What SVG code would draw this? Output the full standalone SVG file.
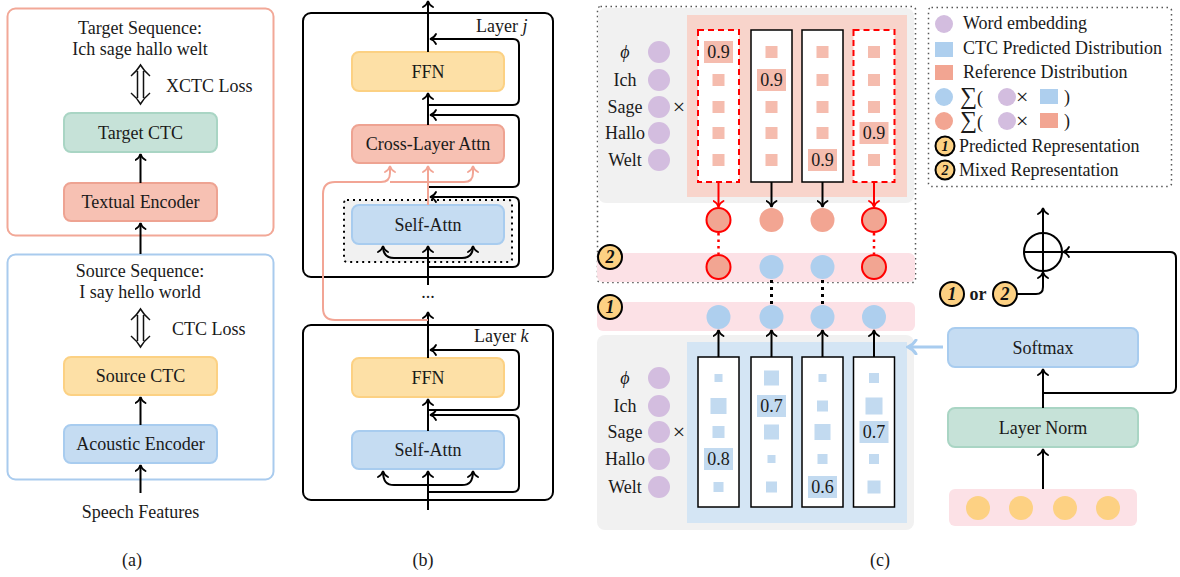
<svg xmlns="http://www.w3.org/2000/svg" width="1180" height="577" viewBox="0 0 1180 577">
<style>
.tx{font-family:"Liberation Serif","Times New Roman",serif;font-size:18px;fill:#1a1a1a}
.m{text-anchor:middle}
.ln{fill:none;stroke:#000;stroke-width:2}
.sl{fill:none;stroke:#f2a595;stroke-width:2}
.bd{fill:#fdd183;stroke:#000;stroke-width:2}
.bt{font-family:"Liberation Serif","Times New Roman",serif;font-weight:bold;font-style:italic;text-anchor:middle;fill:#111}
.grn{fill:#c6e2d8;stroke:#a9d5c4;stroke-width:2}
.sal{fill:#f7c1b3;stroke:#eea392;stroke-width:2}
.yel{fill:#fde0a6;stroke:#fcd183;stroke-width:2}
.blu{fill:#c5dcf2;stroke:#a8ccef;stroke-width:2}
.pur{fill:#d3bddf}
.col{fill:#fff;stroke:#000;stroke-width:1.5}
.rcol{fill:#fff;stroke:#f00;stroke-width:2;stroke-dasharray:6 4}
.sq{fill:#f5bcae}
.bsq{fill:#c2daf0}
.rc{fill:#f2a592}
.bc{fill:#aecfee}
.dot{fill:none;stroke:#555;stroke-width:1.5;stroke-dasharray:1.5 3.5}
.sum{font-size:24px}
.x{font-size:22px}
</style>
<defs>
<marker id="ah" viewBox="0 0 12 12" refX="10" refY="6" markerWidth="12" markerHeight="12" orient="auto" markerUnits="userSpaceOnUse"><path d="M4,1 Q6,5 10,6 Q6,7 4,11" fill="none" stroke="#000" stroke-width="1.8" stroke-linecap="round"/></marker>
<marker id="ahs" viewBox="0 0 12 12" refX="10" refY="6" markerWidth="12" markerHeight="12" orient="auto" markerUnits="userSpaceOnUse"><path d="M4,1 Q6,5 10,6 Q6,7 4,11" fill="none" stroke="#f2a595" stroke-width="1.8" stroke-linecap="round"/></marker>
<marker id="ahr" viewBox="0 0 12 12" refX="10" refY="6" markerWidth="12" markerHeight="12" orient="auto" markerUnits="userSpaceOnUse"><path d="M4,1 Q6,5 10,6 Q6,7 4,11" fill="none" stroke="#f00" stroke-width="1.8" stroke-linecap="round"/></marker>
<marker id="ahb" viewBox="0 0 16 16" refX="14" refY="8" markerWidth="16" markerHeight="16" orient="auto" markerUnits="userSpaceOnUse"><path d="M6,1 Q9,6 14,8 Q9,10 6,15" fill="none" stroke="#a8ccef" stroke-width="3" stroke-linecap="round"/></marker>
</defs>
<rect width="1180" height="577" fill="#fff"/>

<!-- Panel (a) -->
<g id="a-target-frame"><rect x="7.5" y="8.5" width="266" height="227" rx="8" fill="none" stroke="#f2a897" stroke-width="2"/>
<text class="tx m" x="140" y="34">Target Sequence:</text>
<text class="tx m" x="140" y="55">Ich sage hallo welt</text>
<text class="tx" x="166" y="92">XCTC Loss</text></g>
<g id="a-source-frame"><rect x="7.5" y="254.5" width="266" height="225" rx="8" fill="none" stroke="#a9cbee" stroke-width="2"/>
<text class="tx m" x="140" y="277">Source Sequence:</text>
<text class="tx m" x="140" y="298">I say hello world</text>
<text class="tx" x="172" y="335">CTC Loss</text></g>
<g id="a-target-ctc"><rect class="grn" x="64" y="113" width="153" height="39" rx="7"/><text class="tx m" x="140.5" y="139">Target CTC</text></g>
<g id="a-textual-encoder"><rect class="sal" x="64" y="183" width="153" height="38" rx="7"/><text class="tx m" x="140.5" y="208">Textual Encoder</text></g>
<g id="a-source-ctc"><rect class="yel" x="64" y="357" width="153" height="38" rx="7"/><text class="tx m" x="140.5" y="382">Source CTC</text></g>
<g id="a-acoustic-encoder"><rect class="blu" x="64" y="425" width="153" height="38" rx="7"/><text class="tx m" x="140.5" y="450">Acoustic Encoder</text></g>
<g id="a-speech"><text class="tx m" x="140.5" y="518">Speech Features</text></g>
<text class="tx m" x="132" y="566">(a)</text>

<g id="a-connectors">
<path class="ln" d="M140.5,183 V154" marker-end="url(#ah)"/>
<path class="ln" d="M140.5,254 V223" marker-end="url(#ah)"/>
<path class="ln" d="M140.5,425 V397" marker-end="url(#ah)"/>
<path class="ln" d="M140.5,493 V465" marker-end="url(#ah)"/>
<path d="M131,76 Q137,71 140.5,65 Q144,71 150,76 M137.5,71 V98 M143.5,71 V98 M131,93 Q137,98 140.5,104 Q144,98 150,93" fill="none" stroke="#111" stroke-width="1.5"/>
<path d="M131,320 Q137,315 140.5,309 Q144,315 150,320 M137.5,315 V341 M143.5,315 V341 M131,336 Q137,341 140.5,347 Q144,341 150,336" fill="none" stroke="#111" stroke-width="1.5"/>
</g>

<!-- Panel (b) -->
<g id="b-layer-j"><rect x="303" y="13" width="250" height="264" rx="8" fill="none" stroke="#000" stroke-width="2"/>
<text class="tx" x="476" y="32">Layer <tspan font-style="italic">j</tspan></text></g>
<g id="b-dotted"><rect x="344" y="200" width="168" height="62" rx="3" fill="#f1f1f1" stroke="#000" stroke-width="2" stroke-dasharray="2 4"/></g>
<g id="b-ffn-j"><rect class="yel" x="352" y="52" width="152" height="39" rx="7"/><text class="tx m" x="428" y="78">FFN</text></g>
<g id="b-cross-attn"><rect class="sal" x="352" y="125" width="152" height="38" rx="7"/><text class="tx m" x="428" y="150">Cross-Layer Attn</text></g>
<g id="b-self-attn-j"><rect class="blu" x="352" y="205" width="152" height="39" rx="7"/><text class="tx m" x="428" y="231">Self-Attn</text></g>
<g id="b-layer-k"><rect x="303" y="325" width="250" height="175" rx="8" fill="none" stroke="#000" stroke-width="2"/>
<text class="tx" x="474" y="342">Layer <tspan font-style="italic">k</tspan></text></g>
<g id="b-ffn-k"><rect class="yel" x="352" y="358" width="152" height="39" rx="7"/><text class="tx m" x="428" y="384">FFN</text></g>
<g id="b-self-attn-k"><rect class="blu" x="352" y="431" width="152" height="38" rx="7"/><text class="tx m" x="428" y="456">Self-Attn</text></g>
<text class="tx m" x="428" y="298">...</text>
<text class="tx m" x="423" y="566">(b)</text>

<g id="b-connectors">
<path class="ln" d="M428,510 V471" marker-end="url(#ah)"/>
<path class="ln" d="M428,485 H394 C387,485 383,482 383,471" marker-end="url(#ah)"/>
<path class="ln" d="M428,485 H462 C469,485 473,482 473,471" marker-end="url(#ah)"/>
<path class="ln" d="M428,492 H513 Q519,492 519,486 V421 Q519,415 513,415 H430" marker-end="url(#ah)"/>
<path class="ln" d="M428,431 V399" marker-end="url(#ah)"/>
<path class="ln" d="M428,410 H513 Q519,410 519,404 V356 Q519,350 513,350 H430" marker-end="url(#ah)"/>
<path class="ln" d="M428,358 V312" marker-end="url(#ah)"/>
<path class="ln" d="M428,277 V283"/>
<path class="ln" d="M428,285 V246" marker-end="url(#ah)"/>
<path class="ln" d="M428,258 H394 C387,258 383,255 383,246" marker-end="url(#ah)"/>
<path class="ln" d="M428,258 H462 C469,258 473,255 473,246" marker-end="url(#ah)"/>
<path class="ln" d="M428,267 H513 Q519,267 519,261 V203 Q519,197 513,197 H430" marker-end="url(#ah)"/>
<path class="ln" d="M428,187 H513 Q519,187 519,181 V121 Q519,115 513,115 H430" marker-end="url(#ah)"/>
<path class="ln" d="M428,125 V93" marker-end="url(#ah)"/>
<path class="ln" d="M428,105 H513 Q519,105 519,99 V45 Q519,39 513,39 H430" marker-end="url(#ah)"/>
<path class="ln" d="M428,52 V1" marker-end="url(#ah)"/>
<path class="sl" d="M428,320 H335 Q323,320 323,308 V194 Q323,182 335,182 H381 Q390,182 390,173 V166" marker-end="url(#ahs)"/>
<path class="sl" d="M390,182 H428"/>
<path class="sl" d="M428,205 V166" marker-end="url(#ahs)"/>
<path class="sl" d="M428,182 H464 Q473,182 473,173 V166" marker-end="url(#ahs)"/>
</g>

<!-- Panel (c) -->
<g id="c-frame"><rect class="dot" x="597.5" y="6.5" width="318" height="276" rx="3"/></g>
<g id="c-ref-block">
<rect x="598" y="8" width="316" height="195" rx="8" fill="#f1f1f1"/>
<rect x="687" y="15" width="220" height="182" fill="#f8d4cb"/>
<text class="tx m" x="625" y="58" font-style="italic">ϕ</text>
<text class="tx m" x="625" y="86">Ich</text>
<text class="tx m" x="625" y="113">Sage</text>
<text class="tx m" x="625" y="139">Hallo</text>
<text class="tx m" x="625" y="166">Welt</text>
<circle class="pur" cx="659" cy="52" r="11"/><circle class="pur" cx="659" cy="80" r="11"/><circle class="pur" cx="659" cy="107" r="11"/><circle class="pur" cx="659" cy="133" r="11"/><circle class="pur" cx="659" cy="160" r="11"/>
<text class="tx m x" x="679" y="114">×</text>
<rect class="rcol" x="698" y="30" width="41" height="152"/>
<rect class="col" x="751" y="30" width="41" height="152"/>
<rect class="col" x="802" y="30" width="41" height="152"/>
<rect class="rcol" x="853.5" y="30" width="41" height="152"/>
<rect class="sq" x="704" y="41" width="29" height="22"/><text class="tx m" x="718.5" y="58">0.9</text>
<rect class="sq" x="712.5" y="74" width="12" height="12"/><rect class="sq" x="712.5" y="101" width="12" height="12"/><rect class="sq" x="712.5" y="127" width="12" height="12"/><rect class="sq" x="712.5" y="154" width="12" height="12"/>
<rect class="sq" x="765.5" y="46" width="12" height="12"/>
<rect class="sq" x="757" y="69" width="29" height="22"/><text class="tx m" x="771.5" y="86">0.9</text>
<rect class="sq" x="765.5" y="101" width="12" height="12"/><rect class="sq" x="765.5" y="127" width="12" height="12"/><rect class="sq" x="765.5" y="154" width="12" height="12"/>
<rect class="sq" x="816.5" y="46" width="12" height="12"/><rect class="sq" x="816.5" y="74" width="12" height="12"/><rect class="sq" x="816.5" y="101" width="12" height="12"/><rect class="sq" x="816.5" y="127" width="12" height="12"/>
<rect class="sq" x="808" y="149" width="29" height="22"/><text class="tx m" x="822.5" y="166">0.9</text>
<rect class="sq" x="868" y="46" width="12" height="12"/><rect class="sq" x="868" y="74" width="12" height="12"/><rect class="sq" x="868" y="101" width="12" height="12"/>
<rect class="sq" x="859.5" y="122" width="29" height="22"/><text class="tx m" x="874" y="139">0.9</text>
<rect class="sq" x="868" y="154" width="12" height="12"/>
</g>
<g id="c-ref-circles">
<circle class="rc" cx="718.5" cy="220" r="12" stroke="#f00" stroke-width="2"/>
<circle class="rc" cx="771.5" cy="220" r="12"/>
<circle class="rc" cx="822.5" cy="220" r="12"/>
<circle class="rc" cx="874" cy="220" r="12" stroke="#f00" stroke-width="2"/>
</g>
<g id="c-mixed-band">
<rect x="597" y="253" width="318" height="29" rx="6" fill="#fce1e6"/>
<circle class="rc" cx="718.5" cy="267" r="12" stroke="#f00" stroke-width="2"/>
<circle class="bc" cx="771.5" cy="267" r="12"/>
<circle class="bc" cx="822.5" cy="267" r="12"/>
<circle class="rc" cx="874" cy="267" r="12" stroke="#f00" stroke-width="2"/>
<circle class="bd" cx="610" cy="257" r="12"/><text class="bt" x="610" y="263" font-size="18">2</text>
</g>
<g id="c-pred-band">
<rect x="597" y="302" width="318" height="29" rx="6" fill="#fce1e6"/>
<circle class="bc" cx="718.5" cy="317" r="12"/>
<circle class="bc" cx="771.5" cy="317" r="12"/>
<circle class="bc" cx="822.5" cy="317" r="12"/>
<circle class="bc" cx="874" cy="317" r="12"/>
<circle class="bd" cx="610" cy="307" r="12"/><text class="bt" x="610" y="313" font-size="18">1</text>
</g>
<g id="c-pred-block">
<rect x="597" y="335" width="317" height="195" rx="8" fill="#f1f1f1"/>
<rect x="687" y="342" width="220" height="181" fill="#d4e5f4"/>
<text class="tx m" x="625" y="384" font-style="italic">ϕ</text>
<text class="tx m" x="625" y="412">Ich</text>
<text class="tx m" x="625" y="438">Sage</text>
<text class="tx m" x="625" y="465">Hallo</text>
<text class="tx m" x="625" y="493">Welt</text>
<circle class="pur" cx="659" cy="378" r="11"/><circle class="pur" cx="659" cy="406" r="11"/><circle class="pur" cx="659" cy="432" r="11"/><circle class="pur" cx="659" cy="459" r="11"/><circle class="pur" cx="659" cy="487" r="11"/>
<text class="tx m x" x="679" y="439">×</text>
<rect class="col" x="698" y="357" width="41" height="150"/>
<rect class="col" x="751" y="357" width="41" height="150"/>
<rect class="col" x="802" y="357" width="41" height="150"/>
<rect class="col" x="853.5" y="357" width="41" height="150"/>
<rect class="bsq" x="714.5" y="374" width="8" height="8"/>
<rect class="bsq" x="710.5" y="398" width="16" height="16"/>
<rect class="bsq" x="712.5" y="426" width="12" height="12"/>
<rect class="bsq" x="704" y="448" width="29" height="22"/><text class="tx m" x="718.5" y="465">0.8</text>
<rect class="bsq" x="713.5" y="482" width="10" height="10"/>
<rect class="bsq" x="764" y="370.5" width="15" height="15"/>
<rect class="bsq" x="757" y="395" width="29" height="22"/><text class="tx m" x="771.5" y="412">0.7</text>
<rect class="bsq" x="764" y="424.5" width="15" height="15"/>
<rect class="bsq" x="767.5" y="455" width="8" height="8"/>
<rect class="bsq" x="766" y="481.5" width="11" height="11"/>
<rect class="bsq" x="818.5" y="374" width="8" height="8"/>
<rect class="bsq" x="817" y="400.5" width="11" height="11"/>
<rect class="bsq" x="814.5" y="424" width="16" height="16"/>
<rect class="bsq" x="817.5" y="454" width="10" height="10"/>
<rect class="bsq" x="808" y="476" width="29" height="22"/><text class="tx m" x="822.5" y="493">0.6</text>
<rect class="bsq" x="869" y="373" width="10" height="10"/>
<rect class="bsq" x="865.5" y="397.5" width="17" height="17"/>
<rect class="bsq" x="859.5" y="421" width="29" height="22"/><text class="tx m" x="874" y="438">0.7</text>
<rect class="bsq" x="869" y="454" width="10" height="10"/>
<rect class="bsq" x="867.5" y="480.5" width="13" height="13"/>
</g>

<g id="c-legend">
<rect class="dot" x="928.5" y="7.5" width="243" height="179" rx="3"/>
<circle class="pur" cx="944" cy="24" r="9"/><text class="tx" x="963" y="29">Word embedding</text>
<rect x="935" y="42" width="18" height="15" fill="#aecfee"/><text class="tx" x="963" y="54">CTC Predicted Distribution</text>
<rect x="935" y="65" width="18" height="15" fill="#f2a592"/><text class="tx" x="963" y="78">Reference Distribution</text>
<circle class="bc" cx="944" cy="97" r="9"/><text class="tx" x="960" y="104"><tspan class="sum">∑</tspan>(</text>
<circle class="pur" cx="1007" cy="97" r="9"/><text class="tx x" x="1016" y="104">×</text>
<rect x="1040" y="89" width="18" height="15" fill="#aecfee"/><text class="tx" x="1064" y="103">)</text>
<circle class="rc" cx="944" cy="121" r="9"/><text class="tx" x="960" y="128"><tspan class="sum">∑</tspan>(</text>
<circle class="pur" cx="1007" cy="121" r="9"/><text class="tx x" x="1016" y="128">×</text>
<rect x="1040" y="113" width="18" height="15" fill="#f2a592"/><text class="tx" x="1064" y="127">)</text>
<circle class="bd" cx="945" cy="146" r="9.5"/><text class="bt" x="945" y="151" font-size="14">1</text>
<text class="tx" x="959" y="152">Predicted Representation</text>
<circle class="bd" cx="945" cy="170" r="9.5"/><text class="bt" x="945" y="175" font-size="14">2</text>
<text class="tx" x="959" y="176">Mixed Representation</text>
</g>

<g id="c-softmax"><rect class="blu" x="948" y="328" width="190" height="39" rx="7"/><text class="tx m" x="1043" y="354">Softmax</text></g>
<g id="c-layernorm"><rect class="grn" x="948" y="408" width="190" height="39" rx="7"/><text class="tx m" x="1043" y="434">Layer Norm</text></g>
<g id="c-input"><rect x="949" y="489" width="188" height="37" rx="6" fill="#fce1e6"/>
<circle cx="978" cy="508" r="12" fill="#fdd183"/><circle cx="1021" cy="508" r="12" fill="#fdd183"/><circle cx="1065" cy="508" r="12" fill="#fdd183"/><circle cx="1108" cy="508" r="12" fill="#fdd183"/></g>
<g id="c-add"><circle cx="1043" cy="252" r="19" fill="#fff" stroke="#000" stroke-width="2"/><path class="ln" d="M1024,252 H1062 M1043,233 V271"/></g>
<g id="c-choice"><circle class="bd" cx="952" cy="294" r="12"/><text class="bt" x="952" y="300" font-size="18">1</text>
<text class="tx m" x="978" y="300" font-weight="bold">or</text>
<circle class="bd" cx="1005" cy="294" r="12"/><text class="bt" x="1005" y="300" font-size="18">2</text></g>
<text class="tx m" x="880" y="566">(c)</text>

<g id="c-connectors">
<path d="M718.5,182 V207" fill="none" stroke="#f00" stroke-width="2" marker-end="url(#ahr)"/>
<path d="M874,182 V207" fill="none" stroke="#f00" stroke-width="2" marker-end="url(#ahr)"/>
<path class="ln" d="M771.5,182 V207" marker-end="url(#ah)"/>
<path class="ln" d="M822.5,182 V207" marker-end="url(#ah)"/>
<path d="M718.5,233 V254 M874,233 V254" fill="none" stroke="#f00" stroke-width="2.5" stroke-dasharray="2.5 4"/>
<path d="M771.5,280 V305 M822.5,280 V305" fill="none" stroke="#000" stroke-width="3" stroke-dasharray="3 4"/>
<path class="ln" d="M718.5,357 V330" marker-end="url(#ah)"/>
<path class="ln" d="M771.5,357 V330" marker-end="url(#ah)"/>
<path class="ln" d="M822.5,357 V330" marker-end="url(#ah)"/>
<path class="ln" d="M874,357 V330" marker-end="url(#ah)"/>
<path d="M943,347 H908" fill="none" stroke="#a8ccef" stroke-width="3" marker-end="url(#ahb)"/>
<path class="ln" d="M1043,489 V449" marker-end="url(#ah)"/>
<path class="ln" d="M1043,408 V369" marker-end="url(#ah)"/>
<path class="ln" d="M1043,393 H1170 Q1176,393 1176,387 V258 Q1176,252 1170,252 H1063" marker-end="url(#ah)"/>
<path class="ln" d="M1017,294 H1036 Q1043,294 1043,287 V272" marker-end="url(#ah)"/>
<path class="ln" d="M1043,233 V208" marker-end="url(#ah)"/>
</g>
</svg>
